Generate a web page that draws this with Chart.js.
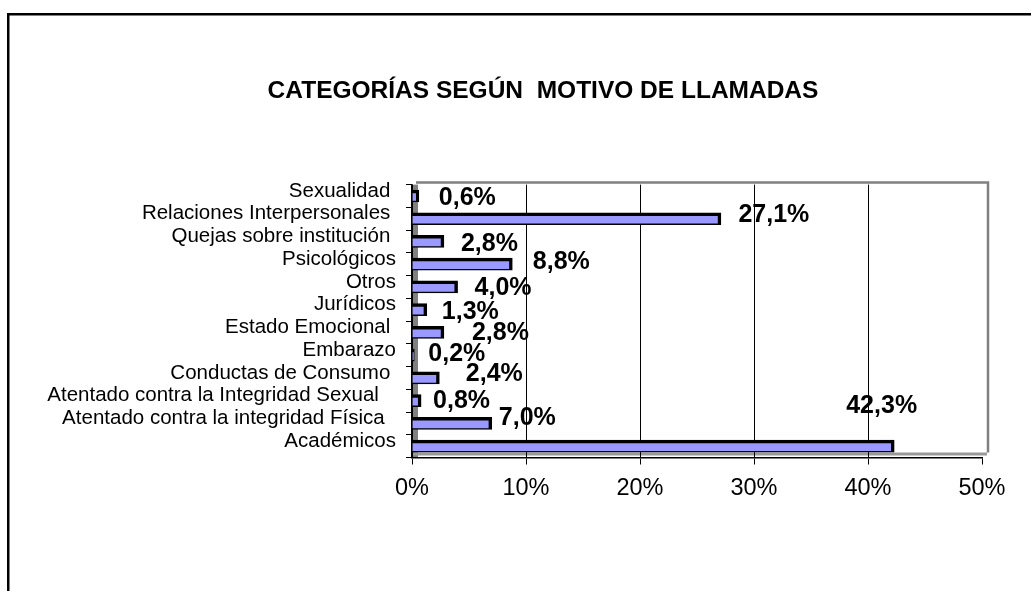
<!DOCTYPE html>
<html>
<head>
<meta charset="utf-8">
<script src="https://cdn.jsdelivr.net/npm/chart.js@4.4.1/dist/chart.umd.min.js"></script>
<style>
  html, body { margin: 0; padding: 0; background: #fff; }
  #wrap { width: 1031px; height: 591px; position: relative; }
</style>
</head>
<body>
<div id="wrap"><canvas id="grafico" width="1031" height="591"></canvas></div>
<script>
// datos
const categorias = [
  'Sexualidad ',
  'Relaciones Interpersonales ',
  'Quejas sobre institución ',
  'Psicológicos',
  'Otros',
  'Jurídicos',
  'Estado Emocional ',
  'Embarazo',
  'Conductas de Consumo ',
  'Atentado contra la Integridad Sexual   ',
  'Atentado contra la integridad Física  ',
  'Académicos'
];
const porcentajes = [0.6, 27.1, 2.8, 8.8, 4.0, 1.3, 2.8, 0.2, 2.4, 0.8, 7.0, 42.3];
const ticksX = [0, 10, 20, 30, 40, 50];
const titulo = 'CATEGORÍAS SEGÚN  MOTIVO DE LLAMADAS';

// desplazamiento de cada etiqueta respecto al final de la barra (como en Excel)
const desplazEtiqueta = [
  [21, 2], [18.5, -4], [18, 3], [21.5, -2.5], [18, 1], [16, 2.5],
  [29, 1], [15, -1.5], [27.5, -4], [13, 0], [8, -5], [-47, -40]
];

const fuente = 'Arial, "Liberation Sans", sans-serif';
Chart.defaults.font.family = fuente;
Chart.defaults.color = '#000';

const formato = v => v.toFixed(1).replace('.', ',') + '%';

// marco, titulo y paredes 3D
const decorado = {
  id: 'decorado',
  beforeDraw(chart) {
    const { ctx, chartArea: a } = chart;
    ctx.save();
    ctx.fillStyle = '#fff';
    ctx.fillRect(0, 0, chart.width, chart.height);
    // marco exterior
    ctx.fillStyle = '#000';
    ctx.fillRect(7, 13, chart.width, 2.5);
    ctx.fillRect(7, 13, 2.5, chart.height);
    // pared del fondo
    ctx.strokeStyle = '#808080';
    ctx.lineWidth = 2.5;
    ctx.beginPath();
    ctx.moveTo(a.left + 4, a.top - 2);
    ctx.lineTo(a.right + 6, a.top - 2);
    ctx.lineTo(a.right + 6, a.bottom - 5);
    ctx.stroke();
    // pared izquierda y piso
    ctx.fillStyle = '#808080';
    ctx.fillRect(a.left + 1, a.top, 5, a.bottom - a.top);
    ctx.fillStyle = '#9a9a9a';
    ctx.fillRect(a.left, a.bottom - 5, a.right - a.left + 5, 3);
    ctx.restore();
  },
  afterDraw(chart) {
    const { ctx } = chart;
    ctx.save();
    ctx.font = 'bold 24.5px ' + fuente;
    ctx.fillStyle = '#000';
    ctx.textAlign = 'center';
    ctx.textBaseline = 'middle';
    ctx.fillText(titulo, 543, 91);
    ctx.restore();
  }
};

// etiquetas de valor
const etiquetas = {
  id: 'etiquetas',
  afterDatasetsDraw(chart) {
    const { ctx } = chart;
    const meta = chart.getDatasetMeta(0);
    ctx.save();
    ctx.font = 'bold 25px ' + fuente;
    ctx.fillStyle = '#000';
    ctx.textAlign = 'left';
    ctx.textBaseline = 'middle';
    meta.data.forEach((bar, i) => {
      const d = desplazEtiqueta[i] || [15, 0];
      ctx.fillText(formato(porcentajes[i]), bar.x + d[0] - 1, bar.y + d[1]);
    });
    ctx.restore();
  }
};

new Chart(document.getElementById('grafico').getContext('2d'), {
  type: 'bar',
  data: {
    labels: categorias,
    datasets: [{
      data: porcentajes,
      backgroundColor: '#9999FF',
      borderColor: '#000',
      borderWidth: { top: 3.5, right: 3.5, bottom: 1.5, left: 0 },
      borderSkipped: false,
      barThickness: 12
    }]
  },
  options: {
    indexAxis: 'y',
    responsive: false,
    animation: false,
    layout: { padding: { top: 184.6, right: 49, bottom: 0, left: 0 } },
    plugins: {
      legend: { display: false },
      title: { display: false },
      tooltip: { enabled: false }
    },
    scales: {
      x: {
        min: 0,
        max: 50,
        afterFit: s => { s.height = 591 - 457.5; },
        afterBuildTicks: s => { s.ticks = ticksX.map(v => ({ value: v })); },
        ticks: {
          callback: v => v + '%',
          font: { size: 23.5 },
          padding: 10,
          maxRotation: 0
        },
        grid: {
          color: ctx => (ctx.tick && ctx.tick.value === 50) ? 'rgba(0,0,0,0)' : '#000',
          tickColor: '#000',
          lineWidth: 1,
          tickLength: 7
        },
        border: { color: '#000', width: 1.5 }
      },
      y: {
        afterFit: s => { s.width = 412; },
        ticks: {
          font: { size: 20.5 },
          padding: 10,
          labelOffset: -5,
          autoSkip: false
        },
        grid: {
          drawOnChartArea: false,
          tickLength: 6,
          tickColor: '#000',
          offset: true
        },
        border: { color: '#000', width: 1.5 }
      }
    }
  },
  plugins: [decorado, etiquetas]
});
</script>
</body>
</html>
